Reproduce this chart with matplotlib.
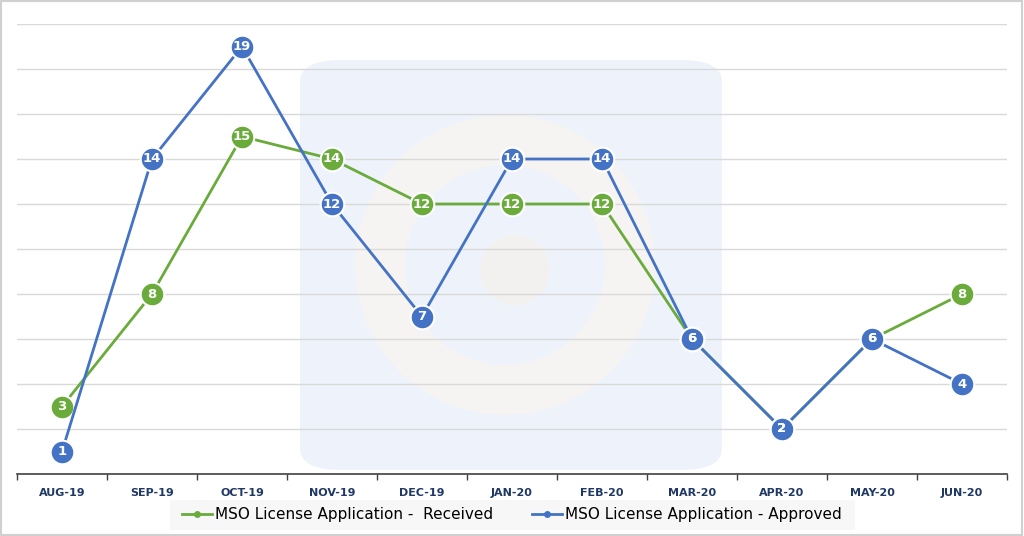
import numpy as np
import matplotlib
matplotlib.use("Agg")
import matplotlib.pyplot as plt
from matplotlib.patches import FancyBboxPatch, Rectangle, Ellipse

months = ["AUG-19", "SEP-19", "OCT-19", "NOV-19", "DEC-19", "JAN-20",
          "FEB-20", "MAR-20", "APR-20", "MAY-20", "JUN-20"]
received = [3, 8, 15, 14, 12, 12, 12, 6, 2, 6, 8]
approved = [1, 14, 19, 12, 7, 14, 14, 6, 2, 6, 4]

green = '#6aab3c'
blue = '#4472c4'
navy = '#1f3864'

fig = plt.figure(figsize=(10.24, 5.36), dpi=100)

# outer border
fig.patches.append(Rectangle((0.001, 0.002), 0.997, 0.996, transform=fig.transFigure,
                             fill=False, edgecolor='#d0d0d0', linewidth=1.5, zorder=1))

ax = fig.add_axes([17/1024, 1-474/536, 990/1024, 450/536])
ax.patch.set_alpha(0)

# faint watermark logo behind the plot
ax.add_patch(FancyBboxPatch((300/1024, 1-470/536), 422/1024, 410/536,
                            boxstyle="round,pad=0,rounding_size=0.04",
                            transform=fig.transFigure, facecolor='#eef3fb',
                            edgecolor='none', zorder=0, clip_on=False))
ax.add_patch(Ellipse((505/1024, 1-265/536), 300/1024, 300/536,
                     transform=fig.transFigure, facecolor='#f5f4f2',
                     edgecolor='none', zorder=0, clip_on=False))
ax.add_patch(Ellipse((505/1024, 1-265/536), 200/1024, 200/536,
                     transform=fig.transFigure, facecolor='#eef3fb',
                     edgecolor='none', zorder=0, clip_on=False))
ax.add_patch(Ellipse((515/1024, 1-270/536), 70/1024, 70/536,
                     transform=fig.transFigure, facecolor='#f3f1ef',
                     edgecolor='none', zorder=0, clip_on=False))

x = np.arange(len(months))
ax.set_xlim(-0.5, len(months) - 0.5)
ax.set_ylim(0, 20)

for y in range(2, 21, 2):
    ax.axhline(y, color='#d9d9d9', linewidth=1, zorder=1)

ax.plot(x, received, color=green, linewidth=2, marker='o', markersize=17,
        markerfacecolor=green, markeredgecolor='white', markeredgewidth=1.5, zorder=3,
        label="MSO License Application -  Received")
ax.plot(x, approved, color=blue, linewidth=2, marker='o', markersize=17,
        markerfacecolor=blue, markeredgecolor='white', markeredgewidth=1.5, zorder=4,
        label="MSO License Application - Approved")

for xi, v in zip(x, received):
    ax.text(xi, v, str(v), ha='center', va='center', color='white',
            fontsize=9.5, fontweight='bold', zorder=5)
for xi, v in zip(x, approved):
    ax.text(xi, v, str(v), ha='center', va='center', color='white',
            fontsize=9.5, fontweight='bold', zorder=6)

for s in ['top', 'right', 'left']:
    ax.spines[s].set_visible(False)
ax.spines['bottom'].set_color('#404040')
ax.spines['bottom'].set_linewidth(1.2)
ax.set_yticks([])

ax.set_xticks(x)
ax.set_xticklabels(months, fontsize=8, fontweight='bold', color=navy)
ax.tick_params(axis='x', length=0, pad=10)
ax.set_xticks(np.arange(-0.5, len(months)), minor=True)
ax.tick_params(axis='x', which='minor', length=4, width=1, color='#404040', direction='out')

# legend background
fig.patches.append(Rectangle((170/1024, 1-530/536), 685/1024, 30/536, transform=fig.transFigure,
                             facecolor='#f7f7f7', edgecolor='none', zorder=0))
leg = fig.legend(loc='center', bbox_to_anchor=(512/1024, 1-515/536), ncol=2,
                 frameon=False, fontsize=11, handlelength=2, columnspacing=2.5,
                 handletextpad=0.2)
for h in leg.legend_handles:
    h.set_markersize(5)
    h.set_markeredgewidth(0)

fig.savefig("out.png", dpi=100)
